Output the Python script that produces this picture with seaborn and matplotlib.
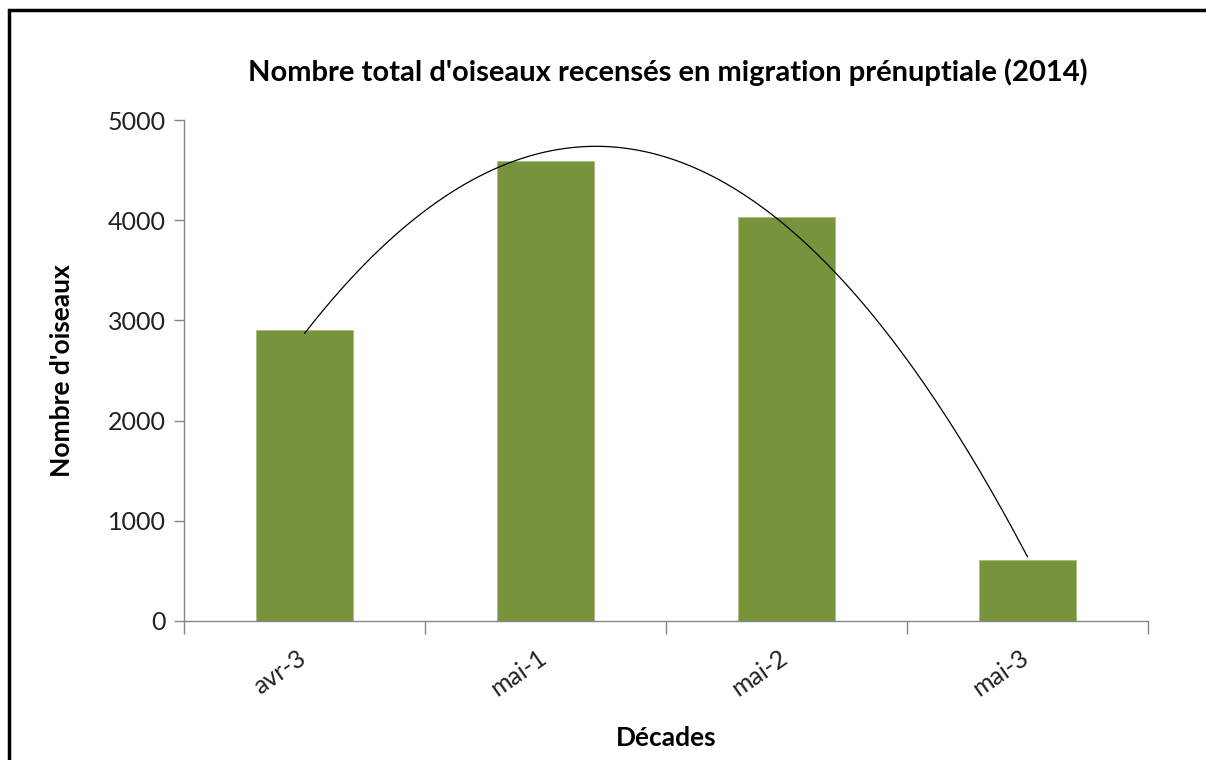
import numpy as np
import pandas as pd
import matplotlib
matplotlib.use('Agg')
import matplotlib.pyplot as plt
import matplotlib.transforms as mtransforms
from matplotlib.patches import Rectangle
import seaborn as sns

decades = ['avr-3', 'mai-1', 'mai-2', 'mai-3']
oiseaux = [2900, 4590, 4030, 610]

sns.set_style('white')
plt.rcParams['font.family'] = ['Lato', 'DejaVu Sans']
plt.rcParams['text.color'] = 'black'
plt.rcParams['axes.labelcolor'] = 'black'
plt.rcParams['xtick.color'] = 'black'
plt.rcParams['ytick.color'] = 'black'

df = pd.DataFrame({'decade': decades, 'nombre': oiseaux})

fig = plt.figure(figsize=(12.06, 7.6), dpi=100)
ax = fig.add_axes([184 / 1206, 139 / 760, 964 / 1206, 501 / 760])

sns.barplot(data=df, x='decade', y='nombre', color='#77933C', width=0.4,
            saturation=1, edgecolor='#a9bf7f', linewidth=0.6, ax=ax)

# polynomial trend line (order 2), like excel
xs = np.arange(len(oiseaux))
coef = np.polyfit(xs, oiseaux, 2)
xx = np.linspace(0, len(oiseaux) - 1, 200)
ax.plot(xx, np.polyval(coef, xx), color='black', lw=0.9)

ax.set_xlim(-0.5, len(decades) - 0.5)
ax.set_ylim(0, 5000)
ax.set_yticks([0, 1000, 2000, 3000, 4000, 5000])

ax.set_xticks(np.arange(len(decades)))
ax.set_xticklabels(decades, rotation=35, ha='right', rotation_mode='anchor')
ax.set_xticks(np.arange(-0.5, len(decades)), minor=True)
ax.tick_params(axis='x', which='minor', bottom=True, length=9, color='#868686', width=1, direction='out')
ax.tick_params(axis='x', which='major', bottom=True, length=0, pad=18, labelsize=18)
ax.tick_params(axis='y', left=True, length=7, color='#868686', width=1, direction='out',
               labelsize=18, pad=6, labelcolor='#222222')
offset = mtransforms.ScaledTranslation(-8 / 100, 0, fig.dpi_scale_trans)
for lab in ax.get_xticklabels():
    lab.set_transform(lab.get_transform() + offset)
    lab.set_color('#222222')

sns.despine(ax=ax)
for s in ['left', 'bottom']:
    ax.spines[s].set_color('#868686')
    ax.spines[s].set_linewidth(1)

ax.set_xlabel('Décades', fontsize=19, fontweight='bold', labelpad=18)
ax.set_ylabel("Nombre d'oiseaux", fontsize=19, fontweight='bold', labelpad=24)
fig.text(668 / 1206, 1 - 72 / 760, "Nombre total d'oiseaux recensés en migration prénuptiale (2014)",
         ha='center', va='center', fontsize=21, fontweight='bold')

# outer frame
fig.patches.append(Rectangle((9 / 1206, -0.1), 1.2, 1 - 10 / 760 + 0.1, transform=fig.transFigure,
                             fill=False, edgecolor='black', linewidth=2.5))

fig.savefig('out.png', dpi=100)
